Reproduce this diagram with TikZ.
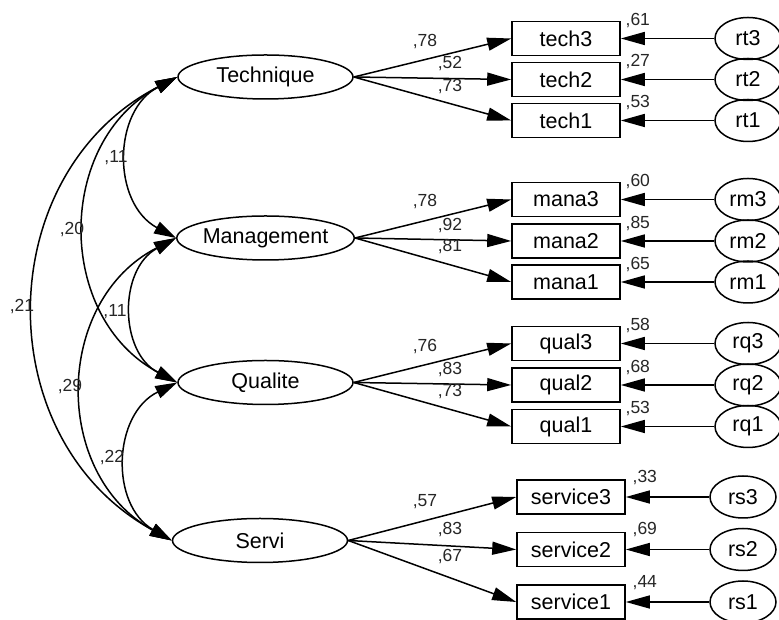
\documentclass[tikz,border=0pt]{standalone}
\usepackage{fontspec}
\setmainfont{Liberation Sans}
\usetikzlibrary{shapes.geometric,arrows.meta}
\begin{document}
\begin{tikzpicture}[x=1pt,y=1pt,
  big/.style={font=\fontsize{21.5}{24}\selectfont},
  latent/.style={ellipse, draw, line width=1.5pt, minimum width=175pt, minimum height=44pt, inner sep=0pt, big},
  obs/.style={rectangle, draw, line width=1.6pt, minimum width=108pt, minimum height=34pt, inner sep=0pt, big},
  err/.style={ellipse, draw, line width=1.5pt, minimum width=66pt, minimum height=42pt, inner sep=0pt, big},
  lab/.style={font=\fontsize{17.5}{19}\selectfont, inner sep=0pt, text=black!85},
  ld/.style={line width=1.5pt, -{Triangle[length=24pt,width=13pt]}},
  cov/.style={line width=1.5pt, {Triangle[length=22pt,width=13pt]}-{Triangle[length=22pt,width=13pt]}, bend right=62, looseness=1.16}]
\useasboundingbox (0,0) rectangle (779,620);
\fill[white] (0,0) rectangle (779,620);

% latent variables
\node[latent] (T) at (265.5,543) {Technique};
\node[latent] (M) at (265.5,382) {Management};
\node[latent] (Q) at (265.5,237.5) {Qualite};
\node[latent] (S) at (260,79.5) {Servi};

% observed variables
\node[obs] (tech3) at (566,581.5) {tech3};
\node[obs] (tech2) at (566,540.5) {tech2};
\node[obs] (tech1) at (566,499.5) {tech1};
\node[obs] (mana3) at (566,420.5) {mana3};
\node[obs] (mana2) at (566,379) {mana2};
\node[obs] (mana1) at (566,338) {mana1};
\node[obs] (qual3) at (566,276.5) {qual3};
\node[obs] (qual2) at (566,235) {qual2};
\node[obs] (qual1) at (566,193.5) {qual1};
\node[obs] (service3) at (571,123) {service3};
\node[obs] (service2) at (571,70.5) {service2};
\node[obs] (service1) at (571,18) {service1};

% error terms
\node[err] (rt3) at (748,581.5) {rt3};
\node[err] (rt2) at (748,540.5) {rt2};
\node[err] (rt1) at (748,499.5) {rt1};
\node[err] (rm3) at (748,420.5) {rm3};
\node[err] (rm2) at (748,379) {rm2};
\node[err] (rm1) at (748,338) {rm1};
\node[err] (rq3) at (748,276.5) {rq3};
\node[err] (rq2) at (748,235) {rq2};
\node[err] (rq1) at (748,193.5) {rq1};
\node[err] (rs3) at (743,123) {rs3};
\node[err] (rs2) at (743,70.5) {rs2};
\node[err] (rs1) at (743,18) {rs1};

% loadings
\foreach \a/\b in {T/tech3,T/tech2,T/tech1,M/mana3,M/mana2,M/mana1,Q/qual3,Q/qual2,Q/qual1,S/service3,S/service2,S/service1}
  \draw[ld] (\a.east) -- (\b.west);

% error paths
\foreach \e/\b in {rt3/tech3,rt2/tech2,rt1/tech1,rm3/mana3,rm2/mana2,rm1/mana1,rq3/qual3,rq2/qual2,rq1/qual1,rs3/service3,rs2/service2,rs1/service1}
  \draw[ld] (\e.west) -- (\b.east);

% loading labels
\node[lab] at (425,578) {,78};
\node[lab] at (450,556) {,52};
\node[lab] at (450,533) {,73};
\node[lab] at (425,418) {,78};
\node[lab] at (450,394) {,92};
\node[lab] at (450,373) {,81};
\node[lab] at (425,273) {,76};
\node[lab] at (450,250) {,83};
\node[lab] at (450,228) {,73};
\node[lab] at (425,118) {,57};
\node[lab] at (450,90) {,83};
\node[lab] at (450,63) {,67};

% squared multiple correlations
\node[lab] at ([xshift=17pt]tech3.north east) {,61};
\node[lab] at ([xshift=17pt]tech2.north east) {,27};
\node[lab] at ([xshift=17pt]tech1.north east) {,53};
\node[lab] at ([xshift=17pt]mana3.north east) {,60};
\node[lab] at ([xshift=17pt]mana2.north east) {,85};
\node[lab] at ([xshift=17pt]mana1.north east) {,65};
\node[lab] at ([xshift=17pt]qual3.north east) {,58};
\node[lab] at ([xshift=17pt]qual2.north east) {,68};
\node[lab] at ([xshift=17pt]qual1.north east) {,53};
\node[lab] at ([xshift=19pt,yshift=2pt]service3.north east) {,33};
\node[lab] at ([xshift=19pt,yshift=2pt]service2.north east) {,69};
\node[lab] at ([xshift=19pt,yshift=2pt]service1.north east) {,44};

% covariances
\draw[cov] (T.west) to (M.west);
\draw[cov] (T.west) to (Q.west);
\draw[cov] (T.west) to (S.west);
\draw[cov] (M.west) to (Q.west);
\draw[cov] (M.west) to (S.west);
\draw[cov] (Q.west) to (S.west);

\node[lab] at (116,462) {,11};
\node[lab] at (72,390) {,20};
\node[lab] at (22,313) {,21};
\node[lab] at (115,308) {,11};
\node[lab] at (70,233) {,29};
\node[lab] at (112,162) {,22};
\end{tikzpicture}
\end{document}
